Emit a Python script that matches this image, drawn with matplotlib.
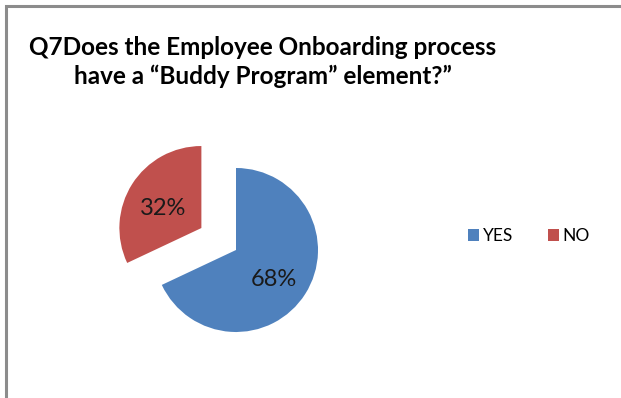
import matplotlib
matplotlib.use("Agg")
import matplotlib.pyplot as plt
from matplotlib.patches import Rectangle

# Survey answers
answers = ["YES", "NO"]
shares = [68, 32]
colors = ["#4F81BD", "#C0504D"]

title = "Q7Does the Employee Onboarding process\nhave a \u201cBuddy Program\u201d element?\u201d"

W, H = 621, 398
fig = plt.figure(figsize=(W / 100, H / 100), dpi=100)
fig.patch.set_facecolor("white")

# chart frame (runs off the right and bottom edges)
fig.patches.append(Rectangle((5.5 / W, -0.1), 1.2, 1.1 - 6.5 / H,
                             transform=fig.transFigure, fill=False,
                             edgecolor="#8c8c8c", linewidth=2.2))

ax = fig.add_axes([0, 0, 1, 1])

radius = 82
wedges, texts, autotexts = ax.pie(
    shares, colors=colors, startangle=90, counterclock=False,
    explode=[0, 0.5 * radius], center=(236, H - 250), radius=radius,
    autopct="%d%%", pctdistance=0.55,
    textprops=dict(family="Lato", fontsize=17, color="#1a1a1a"),
    wedgeprops=dict(linewidth=0),
)
# nudge the percentage labels slightly below the wedge bisectors
for t in autotexts:
    x, y = t.get_position()
    t.set_position((x, y - 5))

ax.set_xlim(0, W)
ax.set_ylim(0, H)
ax.set_aspect("equal")
ax.axis("off")

fig.text(263 / W, 1 - 62 / H, title, ha="center", va="center",
         family="Lato", fontweight="bold", fontsize=17.5, color="black",
         linespacing=1.3)

ax.legend(wedges, answers, ncol=2, loc="center",
          bbox_to_anchor=(529 / W, 1 - 236 / H), bbox_transform=fig.transFigure,
          frameon=False, handlelength=0.65, handleheight=0.65,
          handletextpad=0.2, columnspacing=2.0,
          prop=dict(family="Lato", size=12.5))

fig.savefig("out.png", dpi=100)
